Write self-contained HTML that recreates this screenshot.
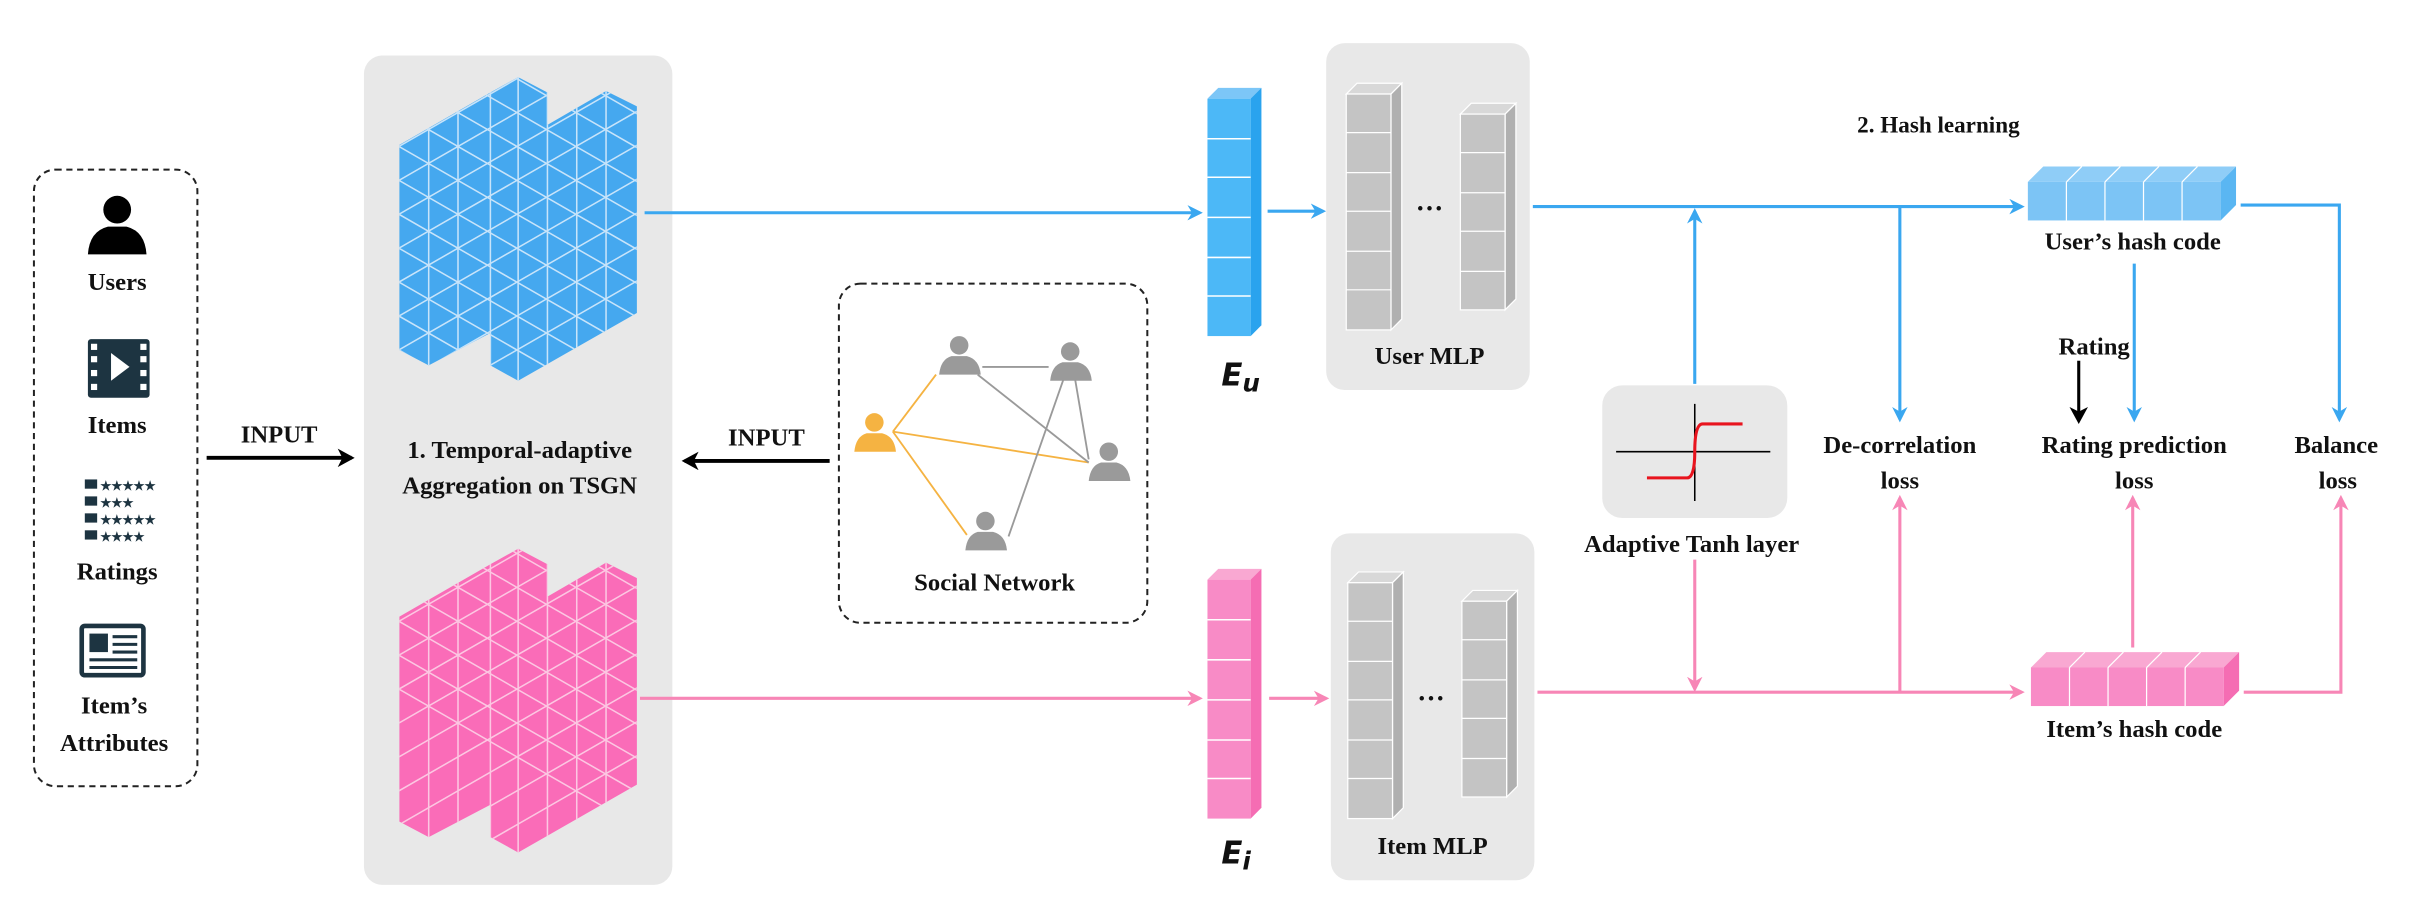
<!DOCTYPE html>
<html><head><meta charset="utf-8"><style>
html,body{margin:0;padding:0;background:#fff;}
svg{display:block}
text{font-family:"Liberation Serif",serif;font-weight:bold;fill:#111;}
</style></head><body>
<svg width="2418" height="908" viewBox="0 0 1568 589" preserveAspectRatio="none" xmlns="http://www.w3.org/2000/svg">
<defs>
<marker id="ab" markerWidth="10" markerHeight="10" refX="8" refY="5" orient="auto" markerUnits="userSpaceOnUse"><path d="M0,0 L10,5 L0,10 L3,5z" fill="#3aa7f0"/></marker>
<marker id="ap" markerWidth="10" markerHeight="10" refX="8" refY="5" orient="auto" markerUnits="userSpaceOnUse"><path d="M0,0 L10,5 L0,10 L3,5z" fill="#f786b6"/></marker>
<marker id="ak" markerWidth="12" markerHeight="12" refX="9" refY="6" orient="auto" markerUnits="userSpaceOnUse"><path d="M0,0 L11,6 L0,12 L3,6z" fill="#000"/></marker>
<clipPath id="cb"><polygon points="259,94 318,60 336,50 355,60 355,81 393,59 413,69 413,203 336,247 318,237 318,216 278,237 259,227"/></clipPath>
<clipPath id="cp"><polygon points="259,400 318,366 336,356 355,366 355,387 393,365 413,375 413,509 336,553 318,543 318,522 278,543 259,533"/></clipPath>
<g id="grid">
<line x1="278" y1="0" x2="278" y2="589"/><line x1="297" y1="0" x2="297" y2="589"/><line x1="318" y1="0" x2="318" y2="589"/><line x1="336" y1="0" x2="336" y2="589"/><line x1="355" y1="0" x2="355" y2="589"/><line x1="374" y1="0" x2="374" y2="589"/><line x1="393" y1="0" x2="393" y2="589"/>
<path d="M250,100 L450,-15 M250,122 L450,7 M250,144 L450,29 M250,166 L450,51 M250,188 L450,73 M250,210 L450,95 M250,232 L450,117 M250,254 L450,139 M250,276 L450,161 M250,298 L450,183 M250,320 L450,205 M250,342 L450,227 M250,364 L450,249 M250,386 L450,271 M250,408 L450,293 M250,430 L450,315 M250,452 L450,337 M250,474 L450,359 M250,496 L450,381 M250,518 L450,403 M250,540 L450,425 M250,562 L450,447 M250,584 L450,469"/>
<path d="M250,-20 L450,95 M250,2 L450,117 M250,24 L450,139 M250,46 L450,161 M250,68 L450,183 M250,90 L450,205 M250,112 L450,227 M250,134 L450,249 M250,156 L450,271 M250,178 L450,293 M250,200 L450,315 M250,222 L450,337 M250,244 L450,359 M250,266 L450,381 M250,288 L450,403 M250,310 L450,425 M250,332 L450,447 M250,354 L450,469 M250,376 L450,491 M250,398 L450,513 M250,420 L450,535 M250,442 L450,557"/>
</g>
</defs>

<!-- left input box -->
<rect x="22" y="110" width="106" height="400" rx="14" fill="none" stroke="#222" stroke-width="1.3" stroke-dasharray="4,3"/>
<circle cx="76" cy="136" r="9" fill="#000"/><path d="M57,165 Q58,150 70,147 L82,147 Q94,150 95,165 Z" fill="#000"/>
<text x="76" y="188" font-size="16" text-anchor="middle">Users</text>
<rect x="57" y="220" width="40" height="38" rx="2" fill="#1d3441"/>
<g fill="#fff"><rect x="59" y="223" width="4" height="4"/><rect x="59" y="231" width="4" height="4"/><rect x="59" y="240" width="4" height="4"/><rect x="59" y="249" width="4" height="4"/><rect x="91" y="223" width="4" height="4"/><rect x="91" y="231" width="4" height="4"/><rect x="91" y="240" width="4" height="4"/><rect x="91" y="249" width="4" height="4"/><path d="M72,229 L84,238 L72,247Z"/></g>
<text x="76" y="281" font-size="16" text-anchor="middle">Items</text>
<g fill="#1d3441" font-size="8"><rect x="55" y="311" width="8" height="6"/><rect x="55" y="322" width="8" height="6"/><rect x="55" y="333" width="8" height="6"/><rect x="55" y="344" width="8" height="6"/>
<text x="65" y="318" font-size="8" style="fill:#1d3441">★★★★★</text><text x="65" y="329" font-size="8" style="fill:#1d3441">★★★</text><text x="65" y="340" font-size="8" style="fill:#1d3441">★★★★★</text><text x="65" y="351" font-size="8" style="fill:#1d3441">★★★★</text></g>
<text x="76" y="376" font-size="16" text-anchor="middle">Ratings</text>
<rect x="53" y="406" width="40" height="32" rx="2" fill="none" stroke="#1d3441" stroke-width="3"/>
<rect x="58" y="411" width="12" height="12" fill="#1d3441"/>
<g stroke="#1d3441" stroke-width="2"><line x1="73" y1="413" x2="89" y2="413"/><line x1="73" y1="418" x2="89" y2="418"/><line x1="73" y1="423" x2="89" y2="423"/><line x1="58" y1="428" x2="89" y2="428"/><line x1="58" y1="433" x2="89" y2="433"/></g>
<text x="74" y="463" font-size="16" text-anchor="middle">Item’s</text>
<text x="74" y="487" font-size="16" text-anchor="middle">Attributes</text>

<!-- INPUT arrow left -->
<line x1="134" y1="297" x2="228" y2="297" stroke="#000" stroke-width="2.5" marker-end="url(#ak)"/>
<text x="181" y="287" font-size="16" text-anchor="middle">INPUT</text>

<!-- grey panel 1 -->
<rect x="236" y="36" width="200" height="538" rx="12" fill="#e8e8e8"/>
<polygon points="259,94 318,60 336,50 355,60 355,81 393,59 413,69 413,203 336,247 318,237 318,216 278,237 259,227" fill="#45a8ef"/>
<g clip-path="url(#cb)" stroke="#c8e4fa" stroke-width="1" fill="none"><use href="#grid"/></g>
<polygon points="259,400 318,366 336,356 355,366 355,387 393,365 413,375 413,509 336,553 318,543 318,522 278,543 259,533" fill="#fa6cb8"/>
<g clip-path="url(#cp)" stroke="#fcc7e2" stroke-width="1" fill="none"><use href="#grid"/></g>
<text x="337" y="297" font-size="16" text-anchor="middle">1. Temporal-adaptive</text>
<text x="337" y="320" font-size="16" text-anchor="middle">Aggregation on TSGN</text>

<!-- social network -->
<rect x="544" y="184" width="200" height="220" rx="14" fill="none" stroke="#222" stroke-width="1.3" stroke-dasharray="4,3"/>
<g stroke="#f5b342" stroke-width="1.2"><line x1="579" y1="280" x2="607" y2="243"/><line x1="579" y1="280" x2="706" y2="300"/><line x1="579" y1="280" x2="627" y2="347"/></g>
<g stroke="#9a9a9a" stroke-width="1.2"><line x1="637" y1="238" x2="680" y2="238"/><line x1="634" y1="243" x2="706" y2="300"/><line x1="690" y1="245" x2="654" y2="348"/><line x1="697" y1="245" x2="706" y2="298"/></g>
<g fill="#f5b342"><circle cx="567" cy="274" r="6"/><path d="M554,293 Q555,283 562,281 L572,281 Q580,283 581,293Z"/></g>
<g fill="#9a9a9a"><circle cx="622" cy="224" r="6"/><path d="M609,243 Q610,233 617,231 L627,231 Q635,233 636,243Z"/>
<circle cx="694" cy="228" r="6"/><path d="M681,247 Q682,237 689,235 L699,235 Q707,237 708,247Z"/>
<circle cx="719" cy="293" r="6"/><path d="M706,312 Q707,302 714,300 L724,300 Q732,302 733,312Z"/>
<circle cx="639" cy="338" r="6"/><path d="M626,357 Q627,347 634,345 L644,345 Q652,347 653,357Z"/></g>
<text x="645" y="383" font-size="16" text-anchor="middle">Social Network</text>
<line x1="538" y1="299" x2="444" y2="299" stroke="#000" stroke-width="2.5" marker-end="url(#ak)"/>
<text x="497" y="289" font-size="16" text-anchor="middle">INPUT</text>

<!-- main arrows -->
<line x1="418" y1="138" x2="778" y2="138" stroke="#3aa7f0" stroke-width="2" marker-end="url(#ab)"/>
<line x1="415" y1="453" x2="778" y2="453" stroke="#f786b6" stroke-width="2" marker-end="url(#ap)"/>

<!-- Eu column -->
<g>
<polygon points="783,64 790,57 818,57 811,64" fill="#7cc6f7"/>
<polygon points="811,64 818,57 818,211 811,218" fill="#2aa3ee"/>
<rect x="783" y="64" width="28" height="154" fill="#4cb8f7"/>
<g stroke="#fff" stroke-width="1"><line x1="783" y1="90" x2="811" y2="90"/><line x1="783" y1="115" x2="811" y2="115"/><line x1="783" y1="141" x2="811" y2="141"/><line x1="783" y1="167" x2="811" y2="167"/><line x1="783" y1="192" x2="811" y2="192"/></g>
</g>
<text x="792" y="250" font-size="20" font-style="italic" style="font-family:'DejaVu Sans',sans-serif">E<tspan font-size="16" dy="4">u</tspan></text>
<g>
<polygon points="783,376 790,369 818,369 811,376" fill="#f9a8d2"/>
<polygon points="811,376 818,369 818,524 811,531" fill="#f56db3"/>
<rect x="783" y="376" width="28" height="155" fill="#f88bc6"/>
<g stroke="#fff" stroke-width="1"><line x1="783" y1="402" x2="811" y2="402"/><line x1="783" y1="428" x2="811" y2="428"/><line x1="783" y1="454" x2="811" y2="454"/><line x1="783" y1="480" x2="811" y2="480"/><line x1="783" y1="505" x2="811" y2="505"/></g>
</g>
<text x="792" y="560" font-size="20" font-style="italic" style="font-family:'DejaVu Sans',sans-serif">E<tspan font-size="16" dy="4">i</tspan></text>
<line x1="822" y1="137" x2="858" y2="137" stroke="#3aa7f0" stroke-width="2" marker-end="url(#ab)"/>
<line x1="823" y1="453" x2="860" y2="453" stroke="#f786b6" stroke-width="2" marker-end="url(#ap)"/>

<!-- MLP panels -->
<rect x="860" y="28" width="132" height="225" rx="12" fill="#e8e8e8"/>
<rect x="863" y="346" width="132" height="225" rx="12" fill="#e8e8e8"/>
<g id="colA">
<polygon points="873,61 880,54 909,54 902,61" fill="#d8d8d8" stroke="#fff" stroke-width="0.8"/>
<polygon points="902,61 909,54 909,207 902,214" fill="#b0b0b0" stroke="#fff" stroke-width="0.8"/>
<rect x="873" y="61" width="29" height="153" fill="#c4c4c4" stroke="#fff" stroke-width="0.8"/>
<g stroke="#fff" stroke-width="0.8"><line x1="873" y1="86" x2="902" y2="86"/><line x1="873" y1="112" x2="902" y2="112"/><line x1="873" y1="137" x2="902" y2="137"/><line x1="873" y1="163" x2="902" y2="163"/><line x1="873" y1="188" x2="902" y2="188"/></g>
</g>
<g id="colB">
<polygon points="947,74 954,67 983,67 976,74" fill="#d8d8d8" stroke="#fff" stroke-width="0.8"/>
<polygon points="976,74 983,67 983,194 976,201" fill="#b0b0b0" stroke="#fff" stroke-width="0.8"/>
<rect x="947" y="74" width="29" height="127" fill="#c4c4c4" stroke="#fff" stroke-width="0.8"/>
<g stroke="#fff" stroke-width="0.8"><line x1="947" y1="99" x2="976" y2="99"/><line x1="947" y1="125" x2="976" y2="125"/><line x1="947" y1="150" x2="976" y2="150"/><line x1="947" y1="176" x2="976" y2="176"/></g>
</g>
<use href="#colA" transform="translate(1,317)"/>
<use href="#colB" transform="translate(1,316)"/>
<text x="927" y="141" font-size="18" text-anchor="middle">···</text>
<text x="928" y="459" font-size="18" text-anchor="middle">···</text>
<text x="927" y="236" font-size="16" text-anchor="middle">User MLP</text>
<text x="929" y="554" font-size="16" text-anchor="middle">Item MLP</text>

<!-- hash learning lines -->
<text x="1257" y="86" font-size="15" text-anchor="middle">2. Hash learning</text>
<line x1="994" y1="134" x2="1311" y2="134" stroke="#3aa7f0" stroke-width="2" marker-end="url(#ab)"/>
<line x1="1099" y1="249" x2="1099" y2="137" stroke="#3aa7f0" stroke-width="2" marker-end="url(#ab)"/>
<line x1="1232" y1="134" x2="1232" y2="272" stroke="#3aa7f0" stroke-width="2" marker-end="url(#ab)"/>
<polyline points="1453,133 1517,133 1517,272" fill="none" stroke="#3aa7f0" stroke-width="2" marker-end="url(#ab)"/>
<line x1="1384" y1="171" x2="1384" y2="272" stroke="#3aa7f0" stroke-width="2" marker-end="url(#ab)"/>
<line x1="997" y1="449" x2="1311" y2="449" stroke="#f786b6" stroke-width="2" marker-end="url(#ap)"/>
<line x1="1099" y1="363" x2="1099" y2="447" stroke="#f786b6" stroke-width="2" marker-end="url(#ap)"/>
<line x1="1232" y1="449" x2="1232" y2="323" stroke="#f786b6" stroke-width="2" marker-end="url(#ap)"/>
<line x1="1383" y1="420" x2="1383" y2="323" stroke="#f786b6" stroke-width="2" marker-end="url(#ap)"/>
<polyline points="1455,449 1518,449 1518,323" fill="none" stroke="#f786b6" stroke-width="2" marker-end="url(#ap)"/>
<line x1="1348" y1="234" x2="1348" y2="273" stroke="#000" stroke-width="2" marker-end="url(#ak)"/>

<!-- hash codes -->
<g>
<polygon points="1315,118 1325,108 1450,108 1440,118" fill="#8fcdf7"/>
<polygon points="1440,118 1450,108 1450,133 1440,143" fill="#5ab6f2"/>
<rect x="1315" y="118" width="125" height="25" fill="#7cc4f5"/>
<g stroke="#fff" stroke-width="0.8"><line x1="1340" y1="118" x2="1340" y2="143"/><line x1="1365" y1="118" x2="1365" y2="143"/><line x1="1390" y1="118" x2="1390" y2="143"/><line x1="1415" y1="118" x2="1415" y2="143"/><line x1="1340" y1="118" x2="1350" y2="108"/><line x1="1365" y1="118" x2="1375" y2="108"/><line x1="1390" y1="118" x2="1400" y2="108"/><line x1="1415" y1="118" x2="1425" y2="108"/></g>
</g>
<g>
<polygon points="1317,433 1327,423 1452,423 1442,433" fill="#f9a8d2"/>
<polygon points="1442,433 1452,423 1452,448 1442,458" fill="#f56db3"/>
<rect x="1317" y="433" width="125" height="25" fill="#f88bc6"/>
<g stroke="#fff" stroke-width="0.8"><line x1="1342" y1="433" x2="1342" y2="458"/><line x1="1367" y1="433" x2="1367" y2="458"/><line x1="1392" y1="433" x2="1392" y2="458"/><line x1="1417" y1="433" x2="1417" y2="458"/><line x1="1342" y1="433" x2="1352" y2="423"/><line x1="1367" y1="433" x2="1377" y2="423"/><line x1="1392" y1="433" x2="1402" y2="423"/><line x1="1417" y1="433" x2="1427" y2="423"/></g>
</g>
<text x="1383" y="162" font-size="16" text-anchor="middle">User’s hash code</text>
<text x="1384" y="478" font-size="16" text-anchor="middle">Item’s hash code</text>

<!-- tanh box -->
<rect x="1039" y="250" width="120" height="86" rx="13" fill="#e8e8e8"/>
<line x1="1048" y1="293" x2="1148" y2="293" stroke="#000" stroke-width="1"/>
<line x1="1099" y1="325" x2="1099" y2="262" stroke="#000" stroke-width="1"/>
<path d="M1068,310 L1094,310 Q1099,310 1099,293 Q1099,275 1104,275 L1130,275" fill="none" stroke="#e8141e" stroke-width="2"/>
<text x="1358" y="230" font-size="16" text-anchor="middle">Rating</text>
<text x="1097" y="358" font-size="16" text-anchor="middle">Adaptive Tanh layer</text>
<text x="1232" y="294" font-size="16" text-anchor="middle">De-correlation</text>
<text x="1232" y="317" font-size="16" text-anchor="middle">loss</text>
<text x="1384" y="294" font-size="16" text-anchor="middle">Rating prediction</text>
<text x="1384" y="317" font-size="16" text-anchor="middle">loss</text>
<text x="1515" y="294" font-size="16" text-anchor="middle">Balance</text>
<text x="1516" y="317" font-size="16" text-anchor="middle">loss</text>
</svg>
</body></html>
